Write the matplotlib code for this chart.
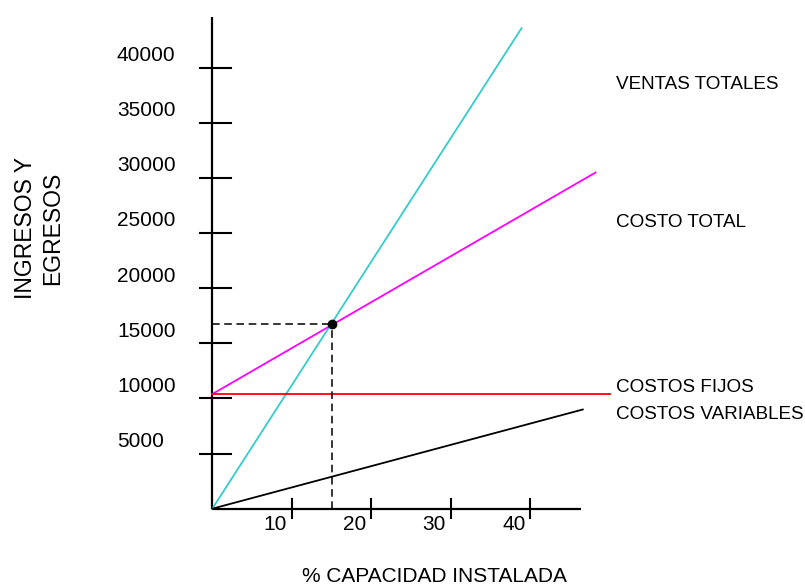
import matplotlib
matplotlib.use("Agg")
import matplotlib.pyplot as plt

plt.rcParams['font.family'] = ['Liberation Sans', 'DejaVu Sans']

# ---- data ----
y_ticks = [5000, 10000, 15000, 20000, 25000, 30000, 35000, 40000]
y_tick_labels = ["5000", "10000", "15000", "20000", "25000", "30000", "35000", "40000"]
x_ticks = [10, 20, 30, 40]
x_tick_labels = ["10", "20", "30", "40"]

ventas_x = [0, 38.9]
ventas_y = [0, 43600]
costo_total_x = [0, 48.2]
costo_total_y = [10400, 30500]
fijos_x = [0, 50.0]
fijos_y = [10400, 10400]
variables_x = [0, 46.6]
variables_y = [0, 9000]
equilibrio_x = 15.0
equilibrio_y = 16750

series_labels = ["VENTAS TOTALES", "COSTO TOTAL", "COSTOS FIJOS", "COSTOS VARIABLES"]
series_label_y = [38530, 26010, 11040, 8590]

x_axis_max = 46.4
y_axis_max = 44600

# ---- figure ----
W, H = 805, 587
fig = plt.figure(figsize=(W / 100, H / 100), dpi=100)
ax = fig.add_axes([0, 0, 1, 1])
ax.axis('off')

# pixel mapping: x0 px = 212.3, 7.95 px / unit ; y0 px(from top) = 508.7, 55.11 px / 5000
px_x0, sx = 212.3, 7.95
px_y0, sy = 508.7, 55.11 / 5000
ax.set_xlim(-px_x0 / sx, (W - px_x0) / sx)
ax.set_ylim(-(H - px_y0) / sy, px_y0 / sy)

# axes lines
ax.plot([0, 0], [0, y_axis_max], color='black', lw=1.6, solid_capstyle='butt')
ax.plot([0, x_axis_max], [0, 0], color='black', lw=1.6, solid_capstyle='butt')

# y ticks
for v, lab in zip(y_ticks, y_tick_labels):
    ax.plot([-1.5, 2.4], [v, v], color='black', lw=1.5)
    ax.annotate(lab, xy=(-12.0, v), xytext=(0, 8.8), textcoords='offset points',
                ha='left', va='center', fontsize=15)

# x ticks
for v, lab in zip(x_ticks, x_tick_labels):
    ax.plot([v, v], [-800, 900], color='black', lw=1.5)
    ax.annotate(lab, xy=(v, 0), xytext=(-3.5, -11.5), textcoords='offset points',
                ha='right', va='center', fontsize=15)

# series lines
ax.plot(ventas_x, ventas_y, color='#33CCCC', lw=1.3)
ax.plot(costo_total_x, costo_total_y, color='#FF00FF', lw=1.3)
ax.plot(fijos_x, fijos_y, color='#FF0000', lw=1.3)
ax.plot(variables_x, variables_y, color='black', lw=1.3)

# break-even guides
ax.plot([0, equilibrio_x], [equilibrio_y, equilibrio_y], color='black', lw=1.1,
        linestyle=(0, (5, 3)))
ax.plot([equilibrio_x, equilibrio_x], [0, equilibrio_y], color='black', lw=1.1,
        linestyle=(0, (5, 3)))
ax.plot([equilibrio_x], [equilibrio_y], 'o', color='black', markersize=6)

# series labels
for lab, yv in zip(series_labels, series_label_y):
    ax.text((616 - px_x0) / sx, yv, lab, ha='left', va='center', fontsize=13.6)

# axis titles
fig.text(434 / W, 1 - 577 / H, "% CAPACIDAD INSTALADA", ha='center', va='center', fontsize=15)
fig.text(39 / W, 1 - 228 / H, "INGRESOS Y\nEGRESOS", ha='center', va='center',
         rotation=90, fontsize=16.5, multialignment='center', linespacing=1.2)

fig.savefig("out.png", dpi=100)
